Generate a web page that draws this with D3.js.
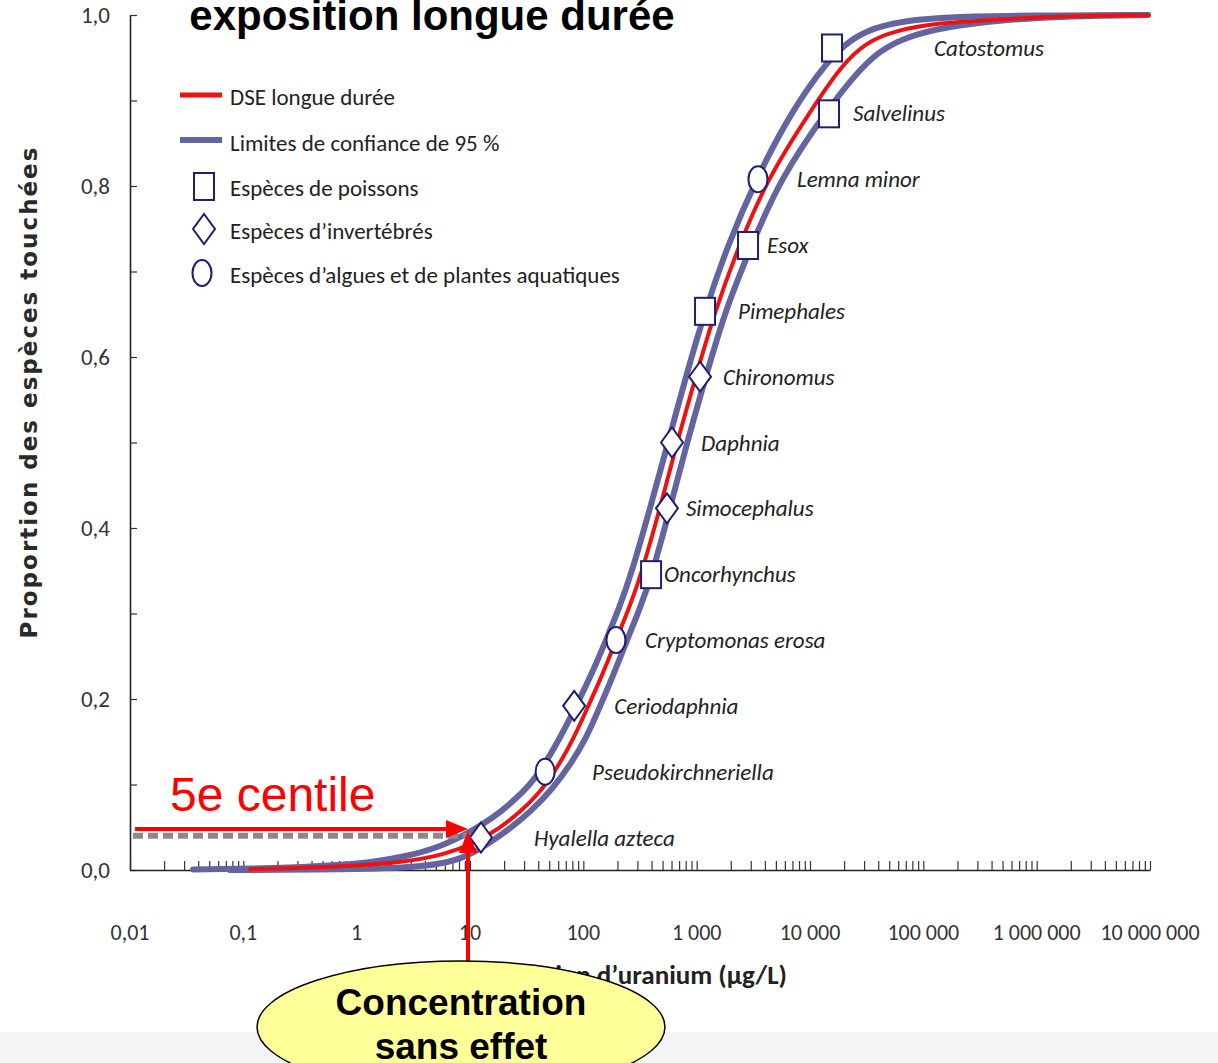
<!DOCTYPE html>
<html>
<head>
<meta charset="utf-8">
<script src="https://cdn.jsdelivr.net/npm/d3@7"></script>
<style>
  body { margin: 0; background: #fff; }
  svg { display: block; }
  .narrow { font-family: "Carlito", "Lato", sans-serif; }
</style>
</head>
<body>
<div id="chart"></div>
<script>
// --- data ---
const speciesNames = ["Hyalella azteca", "Pseudokirchneriella", "Ceriodaphnia", "Cryptomonas erosa",
  "Oncorhynchus", "Simocephalus", "Daphnia", "Chironomus", "Pimephales", "Esox",
  "Lemna minor", "Salvelinus", "Catostomus"];
const speciesGroups = ["invert", "algae", "invert", "algae", "fish", "invert", "invert",
  "invert", "fish", "fish", "algae", "fish", "fish"];
const speciesConc = [12.5, 46, 83, 194, 396, 547, 606, 1071, 1185, 2840, 3475, 14720, 15640];
const speciesProp = [0.038, 0.115, 0.192, 0.269, 0.346, 0.423, 0.5, 0.577, 0.654, 0.731, 0.808, 0.885, 0.962];

// DSE longue durée (courbe centrale)
const dseConc = [0.115, 0.713, 2.67, 6.0, 11.1, 18.4, 27.6, 39.8, 57.4, 81.1, 109.9, 149.2, 194.3,
  252.9, 323, 475, 671, 986, 1452, 2371, 4188, 10000, 19150, 31200, 56230, 140300, 387000,
  1610000, 9600000];
const dseProp = [0.001, 0.0035, 0.009, 0.018, 0.032, 0.049, 0.068, 0.088, 0.117, 0.152, 0.191, 0.23,
  0.269, 0.306, 0.345, 0.423, 0.5, 0.578, 0.654, 0.731, 0.808, 0.887, 0.942, 0.968, 0.982, 0.991,
  0.994, 0.999, 1.0];

// limites de confiance de 95 % (courbe de gauche / de droite)
const ciLeftConc = [0.036, 0.211, 0.582, 1.365, 2.78, 5.44, 9.6, 15.6, 24.0, 33.9, 42.4, 61.0, 86.1,
  119.3, 158.6, 206.5, 263.7, 387.6, 559, 807, 1185, 1879, 3342, 6807, 14420, 22540, 36730, 64860,
  171800, 873000, 9600000];
const ciLeftProp = [0.0006, 0.002, 0.005, 0.009, 0.016, 0.027, 0.043, 0.06, 0.08, 0.1, 0.117, 0.152,
  0.191, 0.23, 0.269, 0.306, 0.345, 0.423, 0.5, 0.578, 0.654, 0.731, 0.808, 0.887, 0.947, 0.971,
  0.985, 0.993, 0.998, 0.9995, 1.0];
const ciRightConc = [0.076, 0.87, 4.0, 8.5, 15.0, 23.5, 35.2, 52.9, 79.4, 105.6, 140.3, 186.5, 242.9,
  316, 403.6, 582, 822, 1211, 1778, 3055, 5433, 13840, 24950, 39810, 68870, 155300, 475000,
  1970000, 9600000];
const ciRightProp = [0, 0.0006, 0.0035, 0.012, 0.032, 0.05, 0.07, 0.094, 0.126, 0.154, 0.191, 0.23,
  0.269, 0.306, 0.345, 0.423, 0.5, 0.578, 0.654, 0.731, 0.808, 0.887, 0.93, 0.957, 0.974, 0.986,
  0.994, 0.999, 1.0];

const xTickValues = [0.01, 0.1, 1, 10, 100, 1e3, 1e4, 1e5, 1e6, 1e7];
const xTickLabels = ["0,01", "0,1", "1", "10", "100", "1 000", "10 000", "100 000", "1 000 000", "10 000 000"];
const yTickValues = [0, 0.2, 0.4, 0.6, 0.8, 1.0];
const yTickLabels = ["0,0", "0,2", "0,4", "0,6", "0,8", "1,0"];
const yMinorTicks = [0, 0.1, 0.2, 0.3, 0.4, 0.5, 0.6, 0.7, 0.8, 0.9, 1.0];

const hc5Conc = 9.6;     // concentration sans effet
const hc5Prop = 0.048;   // 5e centile
const dashProp = 0.04;

// label placement (px to the right of each marker)
const LABEL_DX = [53, 47, 40, 29, 13, 19, 29, 23, 33, 19, 39, 24, 102];

const WIDTH = 1218, HEIGHT = 1063;
const MARGIN = { top: 15, right: 68, bottom: 193, left: 130 };
const BLUE = "#6464a0", RED = "#ee1111", NAVY = "#1f1f6e";

const svg = d3.select("#chart").append("svg")
  .attr("width", WIDTH).attr("height", HEIGHT)
  .style("background", "#fff");

const x = d3.scaleLog().domain([0.01, 1e7]).range([MARGIN.left, WIDTH - MARGIN.right]);
const y = d3.scaleLinear().domain([0, 1]).range([HEIGHT - MARGIN.bottom, MARGIN.top]);

// bottom grey band of the slide
svg.append("rect").attr("x", 0).attr("y", 1032).attr("width", WIDTH).attr("height", HEIGHT - 1032)
  .attr("fill", "#f4f4f4");

// title (cut by the top edge)
svg.append("text").attr("x", 432).attr("y", 30).attr("text-anchor", "middle")
  .attr("font-family", "Liberation Sans, Arial, sans-serif").attr("font-weight", "bold")
  .attr("font-size", 42).attr("fill", "#000").text("exposition longue durée");

// --- axes ---
const yAxis = svg.append("g").attr("transform", `translate(${MARGIN.left},0)`)
  .call(d3.axisLeft(y).tickValues(yMinorTicks).tickSize(-7).tickSizeOuter(0).tickFormat(""));
const xAxis = svg.append("g").attr("transform", `translate(0,${y(0)})`)
  .call(d3.axisBottom(x).tickValues(x.ticks()).tickSize(-9).tickSizeOuter(0).tickFormat(""));
[yAxis, xAxis].forEach((g) => {
  g.select(".domain").attr("stroke", "#222").attr("stroke-width", 1.6);
  g.selectAll(".tick line").attr("stroke", "#333").attr("stroke-width", 1.2);
});

svg.append("g").attr("class", "narrow").selectAll("text").data(yTickValues).join("text")
  .attr("x", 110).attr("y", (d) => y(d)).attr("dy", "0.35em").attr("text-anchor", "end")
  .attr("font-size", 23).attr("fill", "#333")
  .text((d, i) => yTickLabels[i]);

svg.append("g").attr("class", "narrow").selectAll("text").data(xTickValues).join("text")
  .attr("x", (d) => x(d)).attr("y", 932).attr("dy", "0.35em").attr("text-anchor", "middle")
  .attr("font-size", 22).attr("fill", "#333")
  .text((d, i) => xTickLabels[i]);

svg.append("text").attr("class", "narrow").attr("x", 787).attr("y", 984).attr("text-anchor", "end")
  .attr("font-size", 27).attr("font-weight", "bold").attr("fill", "#222")
  .text("Concentration d’uranium (µg/L)");

svg.append("text").attr("transform", "translate(37,392) rotate(-90)").attr("text-anchor", "middle")
  .attr("font-family", "DejaVu Sans, Verdana, sans-serif").attr("font-weight", "bold")
  .attr("font-size", 23).attr("letter-spacing", 2).attr("fill", "#2a2a2a")
  .text("Proportion des espèces touchées");

// --- curves ---
const line = d3.line().x((d) => x(d[0])).y((d) => y(d[1])).curve(d3.curveBasis);
const curves = [
  { conc: ciLeftConc, prop: ciLeftProp, color: BLUE, width: 6 },
  { conc: ciRightConc, prop: ciRightProp, color: BLUE, width: 6 },
  { conc: dseConc, prop: dseProp, color: RED, width: 4 },
];
curves.forEach((c) => {
  svg.append("path").datum(d3.zip(c.conc, c.prop)).attr("d", line)
    .attr("fill", "none").attr("stroke", c.color).attr("stroke-width", c.width)
    .attr("stroke-linecap", "round").attr("stroke-linejoin", "round");
});

// --- species markers ---
const drawMarker = (g, group) => {
  if (group === "fish") {
    g.append("rect").attr("x", -10).attr("y", -13).attr("width", 20).attr("height", 27);
  } else if (group === "invert") {
    g.append("path").attr("d", "M0,-15L11,0L0,15L-11,0Z");
  } else {
    g.append("ellipse").attr("rx", 9.5).attr("ry", 13);
  }
  g.selectAll("*").attr("fill", "#fff").attr("stroke", NAVY).attr("stroke-width", 2);
};

const species = speciesNames.map((name, i) => ({
  name, group: speciesGroups[i], conc: speciesConc[i], prop: speciesProp[i], dx: LABEL_DX[i],
}));

species.forEach((s) => {
  const g = svg.append("g").attr("transform", `translate(${x(s.conc)},${y(s.prop)})`);
  drawMarker(g, s.group);
  svg.append("text").attr("class", "narrow")
    .attr("x", x(s.conc) + s.dx).attr("y", y(s.prop)).attr("dy", "0.35em")
    .attr("font-style", "italic").attr("font-size", 23).attr("fill", "#222")
    .text(s.name);
});

// --- legend ---
const legend = svg.append("g").attr("class", "narrow");
legend.append("line").attr("x1", 180).attr("x2", 222).attr("y1", 95).attr("y2", 95)
  .attr("stroke", RED).attr("stroke-width", 5);
legend.append("line").attr("x1", 180).attr("x2", 222).attr("y1", 140).attr("y2", 140)
  .attr("stroke", BLUE).attr("stroke-width", 6);
drawMarker(legend.append("g").attr("transform", "translate(204,186)"), "fish");
drawMarker(legend.append("g").attr("transform", "translate(204,229)"), "invert");
drawMarker(legend.append("g").attr("transform", "translate(202,273)"), "algae");
const legendTexts = ["DSE longue durée", "Limites de confiance de 95 %", "Espèces de poissons",
  "Espèces d’invertébrés", "Espèces d’algues et de plantes aquatiques"];
const legendY = [97, 143, 188, 231, 275];
legend.selectAll("text").data(legendTexts).join("text")
  .attr("x", 230).attr("y", (d, i) => legendY[i]).attr("dy", "0.35em")
  .attr("font-size", 23).attr("fill", "#222").text((d) => d);

// --- 5e centile annotation ---
const xH = x(hc5Conc), yH = y(hc5Prop);
svg.append("line").attr("x1", 133).attr("x2", xH + 2).attr("y1", y(dashProp)).attr("y2", y(dashProp))
  .attr("stroke", "#8a8a8a").attr("stroke-width", 6).attr("stroke-dasharray", "10,5");
svg.append("line").attr("x1", 135).attr("x2", xH - 18).attr("y1", yH).attr("y2", yH)
  .attr("stroke", "#ff0000").attr("stroke-width", 4);
svg.append("path").attr("d", `M${xH - 22},${yH - 9}L${xH},${yH}L${xH - 22},${yH + 9}Z`).attr("fill", "#ff0000");
svg.append("line").attr("x1", xH).attr("x2", xH).attr("y1", 965).attr("y2", yH + 20)
  .attr("stroke", "#ff0000").attr("stroke-width", 4);
svg.append("path").attr("d", `M${xH - 9},${yH + 24}L${xH},${yH + 2}L${xH + 9},${yH + 24}Z`).attr("fill", "#ff0000");

svg.append("text").attr("x", 170).attr("y", 811)
  .attr("font-family", "Liberation Sans, Arial, sans-serif").attr("font-size", 48)
  .attr("fill", "#ff0000").text("5e centile");

svg.append("ellipse").attr("cx", 461).attr("cy", 1027).attr("rx", 204).attr("ry", 66)
  .attr("fill", "#ffff99").attr("stroke", "#000").attr("stroke-width", 1.5);
const callout = svg.append("g").attr("font-family", "Liberation Sans, Arial, sans-serif")
  .attr("font-weight", "bold").attr("font-size", 37).attr("text-anchor", "middle").attr("fill", "#000");
callout.append("text").attr("x", 461).attr("y", 1015).text("Concentration");
callout.append("text").attr("x", 461).attr("y", 1059).text("sans effet");
</script>
</body>
</html>
